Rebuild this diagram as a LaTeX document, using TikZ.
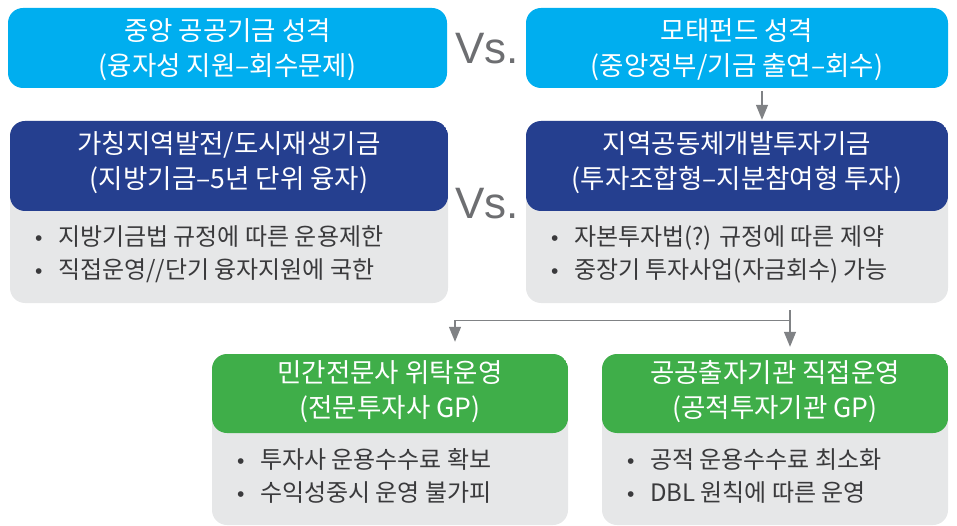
\documentclass[tikz,border=0pt]{standalone}
\usepackage{fontspec}
\setmainfont{Noto Sans CJK KR}
\newfontfamily\vsfont{Liberation Sans}
\usetikzlibrary{arrows.meta,positioning}
\definecolor{skyblue}{HTML}{00AEEF}
\definecolor{navy}{HTML}{253F8F}
\definecolor{leaf}{HTML}{3FAE49}
\definecolor{paper}{HTML}{E6E7E8}
\definecolor{ink}{HTML}{3A3A3C}
\definecolor{slate}{HTML}{6D6E71}
\definecolor{wire}{HTML}{808285}
\newcommand{\hd}{\fontsize{26.5}{35}\selectfont}
\newcommand{\bd}{\fontsize{24}{33}\selectfont}
\newcommand{\itm}{\makebox[23pt][l]{\vsfont\fontsize{21}{21}\selectfont •}}
\newcommand{\card}[6]{% #1 = name, #2 = centre, #3 = width, #4 = height, #5 = header height, #6 = header colour
  \node[card, minimum width=#3, minimum height=#4,
    path picture={\fill[#6] (path picture bounding box.north west) rectangle ([yshift=-#5]path picture bounding box.north east);}]
    (#1) at #2 {};}

\begin{document}
\begin{tikzpicture}[
  x=1pt, y=1pt,
  >={Triangle[length=15pt, width=12pt]},
  card/.style={fill=paper, rounded corners=15pt, inner sep=0pt},
  title/.style={font=\hd, text=white, align=center, inner sep=0pt},
  items/.style={font=\bd, text=ink, align=left, anchor=west, inner sep=0pt},
  vs/.style={font=\vsfont\fontsize{44}{44}\selectfont, text=slate, inner sep=0pt},
  link/.style={draw=wire, line width=1.3pt},
]
  \useasboundingbox (0,0) rectangle (957,-526);

  % ---------------- central fund vs. mother fund
  \node[card, fill=skyblue, minimum width=439, minimum height=80] (gov) at (227.5,-48) {};
  \node[title] (gov-t) at ([yshift=-2]gov.center) {중앙 공공기금 성격\\(융자성 지원–회수문제)};
  \node[card, fill=skyblue, minimum width=422, minimum height=80] (mofund) at (737,-48) {};
  \node[title] (mofund-t) at ([yshift=-2]mofund.center) {모태펀드 성격\\(중앙정부/기금 출연–회수)};
  \node[vs] (vs1) at (487,-49) {Vs.};

  % ---------------- local fund vs. community investment fund
  \card{localfund}{(229,-212)}{438}{182}{90}{navy}
  \node[title] (localfund-t) at ([yshift=-42]localfund.north) {가칭지역발전/도시재생기금\\(지방기금–5년 단위 융자)};
  \node[items] (localfund-b) at ([xshift=25,yshift=49]localfund.south west)
    {\itm 지방기금법 규정에 따른 운용제한\\ \itm 직접운영//단기 융자지원에 국한};
  \card{regdev}{(737,-212)}{422}{182}{90}{navy}
  \node[title] (regdev-t) at ([yshift=-42]regdev.north) {지역공동체개발투자기금\\(투자조합형–지분참여형 투자)};
  \node[items] (regdev-b) at ([xshift=25,yshift=49]regdev.south west)
    {\itm 자본투자법(?) 규정에 따른 제약\\ \itm 중장기 투자사업(자금회수) 가능};
  \node[vs] (vs2) at (487,-204) {Vs.};

  % ---------------- operators
  \card{private}{(390,-439.5)}{356}{171}{79}{leaf}
  \node[title] (private-t) at ([yshift=-38]private.north) {민간전문사 위탁운영\\(전문투자사 GP)};
  \node[items] (private-b) at ([xshift=25,yshift=49]private.south west)
    {\itm 투자사 운용수수료 확보\\ \itm 수익성중시 운영 불가피};
  \card{public}{(775,-439.5)}{346}{171}{79}{leaf}
  \node[title] (public-t) at ([yshift=-38]public.north) {공공출자기관 직접운영\\(공적투자기관 GP)};
  \node[items] (public-b) at ([xshift=25,yshift=49]public.south west)
    {\itm 공적 운용수수료 최소화\\ \itm DBL 원칙에 따른 운영};

  % ---------------- arrows
  \draw[link, ->, shorten <=3pt, shorten >=1pt] ([xshift=25]mofund.south) -- ([xshift=25]regdev.north);
  \coordinate (fork) at ([xshift=53,yshift=-17]regdev.south);
  \draw[link, ->] ([xshift=53,yshift=-7]regdev.south) -- ([xshift=15,yshift=7]public.north);
  \draw[link, ->] (fork) -| ([xshift=65,yshift=12]private.north);
\end{tikzpicture}
\end{document}
